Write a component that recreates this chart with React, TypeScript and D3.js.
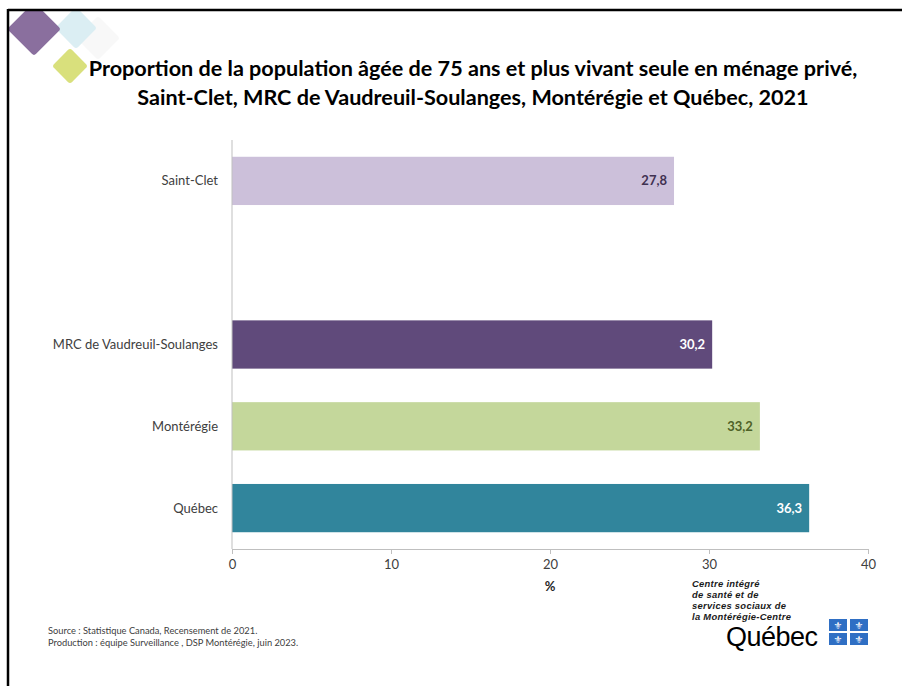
import React, { useEffect, useRef } from "react";
import * as d3 from "d3";

// data
const categories = ["Saint-Clet", "", "MRC de Vaudreuil-Soulanges", "Montérégie", "Québec"];
const values: (number | null)[] = [27.8, null, 30.2, 33.2, 36.3];
const barColors = ["#ccc0da", "none", "#604a7b", "#c4d79b", "#31859c"];
const labelColors = ["#3f3151", "none", "#ffffff", "#4f6228", "#ffffff"];
const xTicks = [0, 10, 20, 30, 40];

const titleLines = [
  "Proportion de la population âgée de 75 ans et plus vivant seule en ménage privé,",
  "Saint-Clet, MRC de Vaudreuil-Soulanges, Montérégie et Québec, 2021",
];
const sourceLines = [
  "Source : Statistique Canada, Recensement de 2021.",
  "Production : équipe Surveillance , DSP Montérégie, juin 2023.",
];
const logoLines = ["Centre intégré", "de santé et de", "services sociaux de", "la Montérégie-Centre"];

const FONT = "Lato, 'Open Sans', sans-serif";

export default function App() {
  const svgRef = useRef<SVGSVGElement | null>(null);

  useEffect(() => {
    document.body.style.margin = "0";
    if (!svgRef.current) return;
    const svg = d3.select(svgRef.current);
    svg.selectAll("*").remove();

    const W = 902, H = 686;
    svg.attr("width", W).attr("height", H).style("background", "#fff");

    // decorative diamonds
    const deco = svg.append("g");
    const diamond = (cx: number, cy: number, r: number, fill: string, op = 1) =>
      deco
        .append("rect")
        .attr("x", -r * 0.707)
        .attr("y", -r * 0.707)
        .attr("width", r * 1.414)
        .attr("height", r * 1.414)
        .attr("rx", 3)
        .attr("fill", fill)
        .attr("opacity", op)
        .attr("transform", `translate(${cx},${cy}) rotate(45)`);
    diamond(98, 38, 22, "#f4f4f4", 0.6);
    diamond(76, 28, 21, "#dbeef3");
    diamond(34, 29, 27, "#8a6f9e");
    diamond(70, 66, 18, "#d9e07c");

    // frame
    svg.append("rect").attr("x", 0).attr("y", 0).attr("width", W).attr("height", 9).attr("fill", "#fff");
    svg.append("line").attr("x1", 8).attr("x2", W).attr("y1", 10).attr("y2", 10).attr("stroke", "#000").attr("stroke-width", 2.5);
    svg.append("line").attr("x1", 8).attr("x2", 8).attr("y1", 9).attr("y2", H).attr("stroke", "#000").attr("stroke-width", 2.5);

    // title
    svg
      .append("g")
      .selectAll("text")
      .data(titleLines)
      .join("text")
      .attr("x", 473)
      .attr("y", (_, i) => 76 + i * 29)
      .attr("text-anchor", "middle")
      .attr("font-family", FONT)
      .attr("font-weight", 700)
      .attr("font-size", 21.6)
      .attr("fill", "#000")
      .text((d) => d);

    const margin = { top: 140, left: 232, right: 34, bottom: 137 };
    const innerW = W - margin.left - margin.right;
    const innerH = H - margin.top - margin.bottom;

    const x = d3.scaleLinear().domain([0, 40]).range([0, innerW]);
    const y = d3.scaleBand().domain(categories.map((c, i) => String(i))).range([0, innerH]).paddingInner(0.41).paddingOuter(0.205);

    const g = svg.append("g").attr("transform", `translate(${margin.left},${margin.top})`);

    // bars
    const rows = categories.map((c, i) => ({ c, i, v: values[i] })).filter((d) => d.v !== null);
    g.selectAll("rect.bar")
      .data(rows)
      .join("rect")
      .attr("class", "bar")
      .attr("x", 0)
      .attr("y", (d) => y(String(d.i))!)
      .attr("width", (d) => x(d.v as number))
      .attr("height", y.bandwidth())
      .attr("fill", (d) => barColors[d.i]);

    g.selectAll("text.val")
      .data(rows)
      .join("text")
      .attr("class", "val")
      .attr("x", (d) => x(d.v as number) - 7)
      .attr("y", (d) => y(String(d.i))! + y.bandwidth() / 2)
      .attr("dy", "0.35em")
      .attr("text-anchor", "end")
      .attr("font-family", FONT)
      .attr("font-weight", 700)
      .attr("font-size", 13)
      .attr("fill", (d) => labelColors[d.i])
      .text((d) => (d.v as number).toFixed(1).replace(".", ","));

    // category labels
    g.selectAll("text.cat")
      .data(categories.map((c, i) => ({ c, i })).filter((d) => d.c !== ""))
      .join("text")
      .attr("class", "cat")
      .attr("x", -14)
      .attr("y", (d) => y(String(d.i))! + y.bandwidth() / 2)
      .attr("dy", "0.35em")
      .attr("text-anchor", "end")
      .attr("font-family", FONT)
      .attr("font-size", 13)
      .attr("fill", "#404040")
      .text((d) => d.c);

    // axes
    g.append("line").attr("x1", 0).attr("x2", 0).attr("y1", 0).attr("y2", innerH).attr("stroke", "#bfbfbf");
    const xAxis = g
      .append("g")
      .attr("transform", `translate(0,${innerH})`)
      .call(d3.axisBottom(x).tickValues(xTicks).tickSize(5).tickSizeOuter(0).tickPadding(6));
    xAxis.select(".domain").attr("stroke", "#bfbfbf");
    xAxis.selectAll(".tick line").attr("stroke", "#bfbfbf");
    xAxis
      .selectAll(".tick text")
      .attr("font-family", FONT)
      .attr("font-size", 13)
      .attr("fill", "#404040");

    g.append("text")
      .attr("x", x(20))
      .attr("y", innerH + 42)
      .attr("text-anchor", "middle")
      .attr("font-family", FONT)
      .attr("font-weight", 700)
      .attr("font-size", 13)
      .attr("fill", "#262626")
      .text("%");

    // source
    svg
      .append("g")
      .selectAll("text")
      .data(sourceLines)
      .join("text")
      .attr("x", 48)
      .attr("y", (_, i) => 634 + i * 12)
      .attr("font-family", FONT)
      .attr("font-size", 9.3)
      .attr("fill", "#404040")
      .text((d) => d);

    // logo
    const logo = svg.append("g");
    logo
      .selectAll("text.l")
      .data(logoLines)
      .join("text")
      .attr("class", "l")
      .attr("x", 692)
      .attr("y", (_, i) => 587 + i * 11)
      .attr("font-family", "'Liberation Sans', Arial, sans-serif")
      .attr("font-weight", 700)
      .attr("font-style", "italic")
      .attr("font-size", 9.4)
      .attr("letter-spacing", 0.3)
      .attr("fill", "#1a1a1a")
      .text((d) => d);
    logo
      .append("text")
      .attr("x", 726)
      .attr("y", 646)
      .attr("font-family", "'Liberation Sans', Arial, sans-serif")
      .attr("font-size", 27)
      .attr("fill", "#000")
      .attr("letter-spacing", -0.5)
      .text("Québec");
    const flags = [
      [829, 619],
      [850, 619],
      [829, 633],
      [850, 633],
    ];
    flags.forEach(([fx, fy]) => {
      logo.append("rect").attr("x", fx).attr("y", fy).attr("width", 18).attr("height", 12).attr("fill", "#2f6fc4");
      logo
        .append("text")
        .attr("x", fx + 9)
        .attr("y", fy + 10)
        .attr("text-anchor", "middle")
        .attr("font-family", "'DejaVu Sans'")
        .attr("font-size", 10)
        .attr("fill", "#fff")
        .text("⚜");
    });
  }, []);

  return <svg ref={svgRef} style={{ position: "absolute", left: 0, top: 0 }} />;
}
